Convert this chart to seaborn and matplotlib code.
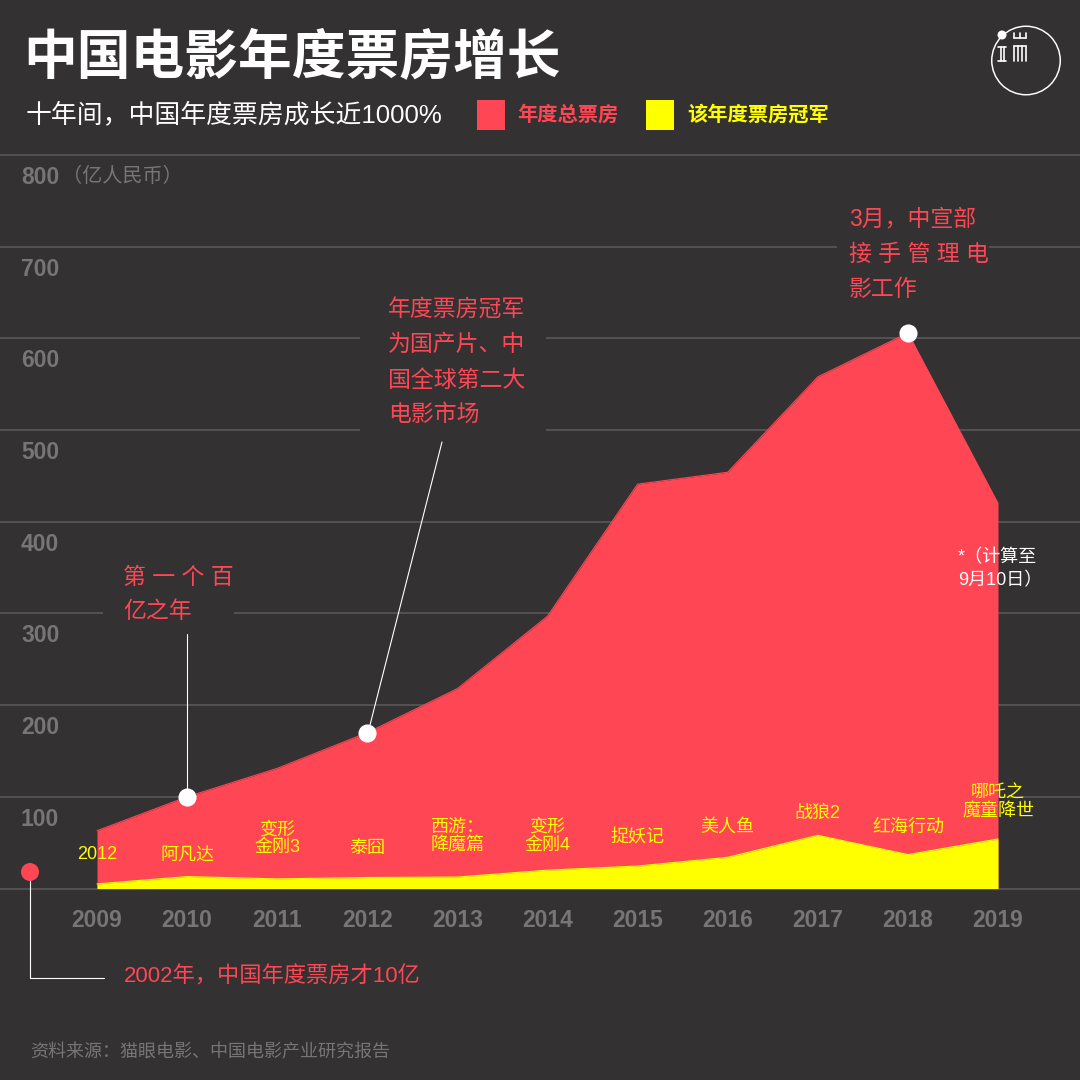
"""中国电影年度票房增长 — 面积图"""
import matplotlib
matplotlib.use("Agg")
import matplotlib.pyplot as plt
import matplotlib.transforms as mtransforms
from matplotlib.lines import Line2D
from matplotlib.patches import Circle, Rectangle
import pandas as pd
import seaborn as sns

BG = "#333132"
RED = "#FF4655"
YELLOW = "#FFFF00"
GRID = "#5C5A5B"
GREY = "#767676"
WHITE = "#FFFFFF"
W = H = 1080

sns.set_theme(style="dark", rc={"axes.facecolor": BG, "figure.facecolor": BG})
plt.rcParams["font.family"] = ["Liberation Sans", "Noto Sans CJK SC", "DejaVu Sans"]

# 票房数据 (亿人民币), label_y 是片名的摆放高度
df = pd.DataFrame({
    "year": list(range(2009, 2020)),
    "total": [63, 100, 131, 170, 218, 297, 441, 454, 558, 606, 420],
    "champion": [5, 13, 10.5, 12, 12.5, 20, 24.5, 34, 58, 37, 54],
    "movie": ["2012", "阿凡达", "变形\n金刚3", "泰囧", "西游：\n降魔篇", "变形\n金刚4",
              "捉妖记", "美人鱼", "战狼2", "红海行动", "哪吒之\n魔童降世"],
    "label_y": [36.6, 35, 54, 44, 57, 57, 56, 67, 82, 67, 94],
})


def put(x, y, s, size, color, **kw):
    """按像素坐标写文字"""
    kw.setdefault("va", "center")
    return fig.text(x / W, 1 - y / H, s, fontsize=size, color=color, **kw)


def seg(xs, ys, color=WHITE, lw=0.8):
    """按像素坐标画线"""
    fig.add_artist(Line2D([x / W for x in xs], [1 - y / H for y in ys],
                          color=color, lw=lw, transform=fig.transFigure, zorder=6))


def dot(x, y, r, color, zorder=7):
    fig.add_artist(Rectangle((0, 0), 0, 0, visible=False))
    fig.add_artist(Circle((x, H - y), r, color=color, lw=0,
                          transform=mtransforms.IdentityTransform() + fig.dpi_scale_trans.inverted()
                          + mtransforms.Affine2D().scale(100), zorder=zorder))


fig = plt.figure(figsize=(W / 100, H / 100), dpi=100)
ax = fig.add_axes([0, (H - 888.5) / H, 1, (888.5 - 155) / H])

# x 轴: 2009 在 97px, 每年 90.1px
x_per_year = 90.1
px2year = lambda x: 2009 + (x - 97) / x_per_year
ax.set_xlim(px2year(0), px2year(W))
ax.set_ylim(0, 800)

ax.fill_between(df["year"], df["total"], color=RED, lw=0, zorder=2)
ax.fill_between(df["year"], df["champion"], color=YELLOW, lw=0, zorder=3)
sns.lineplot(data=df, x="year", y="total", color=RED, lw=0.8, ax=ax, zorder=2)
sns.lineplot(data=df, x="year", y="champion", color=YELLOW, lw=0.8, ax=ax, zorder=3)

highlight = df[df["year"].isin([2010, 2012, 2018])]
sns.scatterplot(data=highlight, x="year", y="total", color=WHITE, s=170, linewidth=0,
                ax=ax, zorder=6, clip_on=False)

for _, row in df.iterrows():
    ax.text(row["year"], row["label_y"], row["movie"], color=YELLOW, fontsize=13,
            ha="center", va="center", linespacing=1.05, zorder=5)

# 坐标轴
ax.set_xlabel("")
ax.set_ylabel("")
ax.set_xticks(df["year"])
ax.set_xticklabels(df["year"])
ax.set_yticks(range(0, 900, 100))
ax.set_yticklabels([""] + [str(v) for v in range(100, 900, 100)])
ax.tick_params(axis="x", length=0, pad=15, labelsize=16.5, labelcolor=GREY)
ax.tick_params(axis="y", length=0, pad=-15.1, labelsize=16.5, labelcolor=GREY)
offset = mtransforms.ScaledTranslation(0, -20 / 100, fig.dpi_scale_trans)
for lab in ax.get_yticklabels():
    lab.set_ha("left")
    lab.set_fontweight("bold")
    lab.set_transform(lab.get_transform() + offset)
for lab in ax.get_xticklabels():
    lab.set_fontweight("bold")
sns.despine(ax=ax, left=True, bottom=True)
ax.grid(axis="y", color=GRID, lw=1.1, zorder=1)
ax.grid(axis="x", visible=False)
ax.set_axisbelow(True)
for gl in ax.get_ygridlines():
    gl.set_clip_on(False)

# 注释文字处把网格线断开
for x0, x1, v in [(103, 234, 300), (360, 546, 500), (360, 546, 600), (837, 989, 700)]:
    ax.plot([px2year(x0), px2year(x1)], [v, v], color=BG, lw=3, zorder=1.5, solid_capstyle="butt")

# 标题和图例
put(23, 58, "中国电影年度票房增长", 38.7, WHITE, fontweight="bold")
put(26, 115, "十年间，中国年度票房成长近1000%", 18.6, WHITE)
fig.add_artist(Rectangle((477 / W, 1 - 130 / H), 28 / W, 30 / H, color=RED, lw=0))
put(517, 115, "年度总票房", 14.6, RED, fontweight="bold")
fig.add_artist(Rectangle((646 / W, 1 - 130 / H), 28 / W, 30 / H, color=YELLOW, lw=0))
put(687, 115, "该年度票房冠军", 14.6, YELLOW, fontweight="bold")
put(62, 176, "（亿人民币）", 14.5, GREY)

# 注释
for y, s in [(577, "第 一 个 百"), (612, "亿之年")]:
    put(123, y, s, 16.5, RED)
for y, s in [(310, "年度票房冠军"), (344, "为国产片、中"), (380, "国全球第二大"), (414, "电影市场")]:
    put(388, y, s, 16.5, RED)
for y, s in [(219, "3月，中宣部"), (254, "接 手 管 理 电"), (289, "影工作")]:
    put(849, y, s, 16.5, RED)
put(958, 558, "*（计算至", 13, WHITE)
put(958, 581, "9月10日）", 13, WHITE)
put(124, 977, "2002年，中国年度票房才10亿", 16, RED)
put(30, 1053, "资料来源：猫眼电影、中国电影产业研究报告", 13, GREY)

seg([187, 187], [634, 790])
seg([442, 370], [442, 725])
seg([30, 30, 104], [878, 978, 978])
dot(30, 872, 9, RED)

# logo
dot(1026, 60.5, 35, WHITE, zorder=4)
dot(1026, 60.5, 33.5, BG, zorder=5)
dot(1002, 35, 4.5, WHITE)
logo = [
    ([998, 1006], [47, 47]), ([998, 1006], [61, 61]), ([1000.5, 1000.5], [47, 61]), ([1003.5, 1003.5], [47, 61]),
    ([1014, 1026], [38, 38]), ([1014, 1014], [33, 38]), ([1020, 1020], [33, 38]), ([1026, 1026], [33, 38]),
    ([1014, 1026], [46, 46]), ([1014, 1014], [46, 61]), ([1026, 1026], [46, 61]),
    ([1018, 1018], [46, 61]), ([1022, 1022], [46, 61]),
]
for xs, ys in logo:
    seg(xs, ys, lw=1.2)

fig.savefig("out.png", dpi=100, facecolor=BG)
plt.close(fig)
